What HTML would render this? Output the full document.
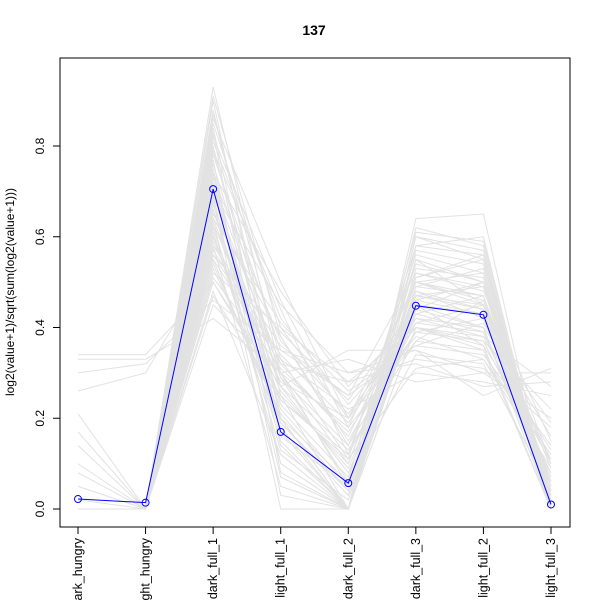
<!DOCTYPE html>
<html><head><meta charset="utf-8"><style>
html,body{margin:0;padding:0;background:#fff;overflow:hidden}
svg{display:block;font-family:"Liberation Sans",Arial,sans-serif}
</style></head><body>
<svg id="chart" width="600" height="600">
<text x="314" y="35" text-anchor="middle" font-size="14" font-weight="bold">137</text>
<text transform="translate(14,292) rotate(-90)" text-anchor="middle" font-size="12">log2(value+1)/sqrt(sum(log2(value+1)))</text>
<rect x="60" y="58" width="510" height="469" fill="none" stroke="#000"/>
<g id="grey"></g><g id="axes"></g><g id="blue"></g>
</svg>
<script>
const categories=["dark_hungry","light_hungry","dark_full_1","light_full_1","dark_full_2","dark_full_3","light_full_2","light_full_3"];
const yTicks=[0.0,0.2,0.4,0.6,0.8];
const yTickLabels=["0.0","0.2","0.4","0.6","0.8"];
const highlight=[0.022,0.014,0.705,0.17,0.057,0.448,0.428,0.01];
const background=[
[0,0,0.93,0.3,0.05,0.55,0.5,0.05],[0,0,0.88,0.25,0,0.6,0.55,0],[0,0,0.85,0.4,0.2,0.5,0.45,0.1],
[0,0,0.8,0.2,0,0.45,0.4,0],[0,0,0.78,0.35,0.25,0.52,0.48,0.15],[0,0,0.75,0.1,0,0.4,0.35,0],
[0,0,0.72,0.3,0.1,0.48,0.42,0.05],[0,0,0.7,0.45,0.3,0.35,0.3,0.2],[0,0,0.68,0,0,0.58,0.6,0],
[0,0,0.66,0.22,0.05,0.5,0.52,0],[0,0,0.65,0.38,0.15,0.42,0.38,0.1],[0,0,0.62,0.15,0,0.55,0.45,0],
[0,0,0.6,0.28,0.2,0.38,0.33,0.12],[0,0,0.58,0.05,0,0.46,0.5,0],[0,0,0.56,0.33,0.22,0.3,0.28,0.25],
[0,0,0.55,0.18,0,0.44,0.4,0.02],[0,0,0.52,0.4,0.28,0.33,0.31,0.18],[0,0,0.5,0.25,0.1,0.5,0.46,0],
[0,0,0.48,0.12,0,0.62,0.58,0],[0,0,0.45,0.3,0.18,0.37,0.35,0.08],[0.21,0,0.6,0.2,0,0.4,0.36,0],
[0.33,0.33,0.42,0.3,0.33,0.28,0.3,0.3],[0.3,0.32,0.46,0.35,0.3,0.32,0.27,0.28],[0.34,0.34,0.5,0.27,0.35,0.35,0.25,0.31],
[0.1,0,0.7,0.16,0.05,0.47,0.44,0],[0.17,0,0.64,0.24,0.12,0.41,0.39,0.05],[0,0,0.83,0.08,0,0.53,0.51,0],
[0,0,0.9,0.2,0,0.64,0.65,0],[0,0,0.76,0.27,0.08,0.43,0.47,0.03],[0.05,0,0.58,0.36,0.25,0.36,0.41,0.16],
[0,0,0.74,0.14,0,0.49,0.53,0],[0,0,0.69,0.32,0.16,0.46,0.43,0.07],[0.08,0,0.63,0.1,0,0.57,0.54,0],
[0,0,0.81,0.42,0.23,0.4,0.37,0.22],[0,0,0.54,0.2,0.06,0.34,0.32,0.04],
[0,0,0.86,0.5,0.2,0.44,0.5,0.1],[0,0,0.82,0.46,0.18,0.5,0.47,0.06],[0,0,0.79,0.44,0.12,0.56,0.52,0.03],
[0,0,0.77,0.03,0,0.47,0.49,0],[0,0,0.73,0.37,0.21,0.41,0.45,0.09],[0,0,0.71,0.23,0.07,0.54,0.5,0],
[0,0,0.67,0.29,0.14,0.39,0.42,0.06],[0,0,0.64,0.41,0.26,0.36,0.34,0.14],[0,0,0.61,0.13,0.02,0.51,0.56,0],
[0,0,0.59,0.26,0.09,0.45,0.43,0.03],[0,0,0.57,0.34,0.19,0.43,0.39,0.11],[0,0,0.53,0.21,0.04,0.48,0.44,0],
[0.05,0,0.51,0.31,0.17,0.39,0.37,0.08],[0,0,0.87,0.33,0.11,0.58,0.56,0.02],[0,0,0.84,0.17,0,0.52,0.49,0],
[0,0,0.91,0.38,0.14,0.47,0.45,0.04],[0,0,0.74,0.48,0.27,0.42,0.4,0.19],[0,0,0.69,0.07,0,0.6,0.57,0],
[0.14,0,0.66,0.19,0.03,0.49,0.47,0],[0,0,0.63,0.27,0.13,0.37,0.46,0.05],[0.02,0,0.56,0.39,0.24,0.45,0.36,0.13],
[0,0,0.47,0.24,0.11,0.31,0.33,0.09],[0,0,0.79,0.29,0.06,0.61,0.59,0.01],[0,0,0.72,0.19,0.04,0.51,0.55,0],
[0.26,0.3,0.55,0.32,0.28,0.4,0.38,0.27]
];
const NS="http://www.w3.org/2000/svg";
const x0=78,dx=67.57,yZero=509,yScale=453.75;
function xPos(i){return x0+i*dx;}
function yPos(v){return yZero-v*yScale;}
function mk(t,a,p){const e=document.createElementNS(NS,t);for(const k in a)e.setAttribute(k,a[k]);p.appendChild(e);return e;}
const grey=document.getElementById('grey'),axes=document.getElementById('axes'),blue=document.getElementById('blue');
background.forEach((row,r)=>{
  const pl=mk('polyline',{points:row.map((v,i)=>xPos(i)+','+yPos(v)).join(' '),fill:'none',stroke:'#e2e2e2','stroke-width':1},grey);
  
  
});
const bl=mk('polyline',{points:highlight.map((v,i)=>xPos(i)+','+yPos(v)).join(' '),fill:'none',stroke:'#0000ff','stroke-width':1},blue);


highlight.forEach((v,i)=>{
  const c=mk('circle',{cx:xPos(i),cy:yPos(v),r:3.5,fill:'none',stroke:'#0000ff'},blue);
  
  
});
mk('line',{x1:60,x2:60,y1:yPos(yTicks[0]),y2:yPos(yTicks[yTicks.length-1]),stroke:'#000'},axes);
yTicks.forEach((v,i)=>{
  const t=mk('line',{x1:53,x2:60,y1:yPos(v),y2:yPos(v),stroke:'#000'},axes);
  
  
  const l=mk('text',{transform:'translate(44,'+yPos(v)+') rotate(-90)','text-anchor':'middle','font-size':12},axes);
  l.textContent=yTickLabels[i];
  
  
});
mk('line',{x1:xPos(0),x2:xPos(categories.length-1),y1:527,y2:527,stroke:'#000'},axes);
categories.forEach((c,i)=>{
  const t=mk('line',{x1:xPos(i),x2:xPos(i),y1:527,y2:534,stroke:'#000'},axes);
  
  
  const l=mk('text',{transform:'translate('+(xPos(i)+4)+',538) rotate(-90)','text-anchor':'end','font-size':12.5},axes);
  l.textContent=c;
  
  
});
</script>
</body></html>
